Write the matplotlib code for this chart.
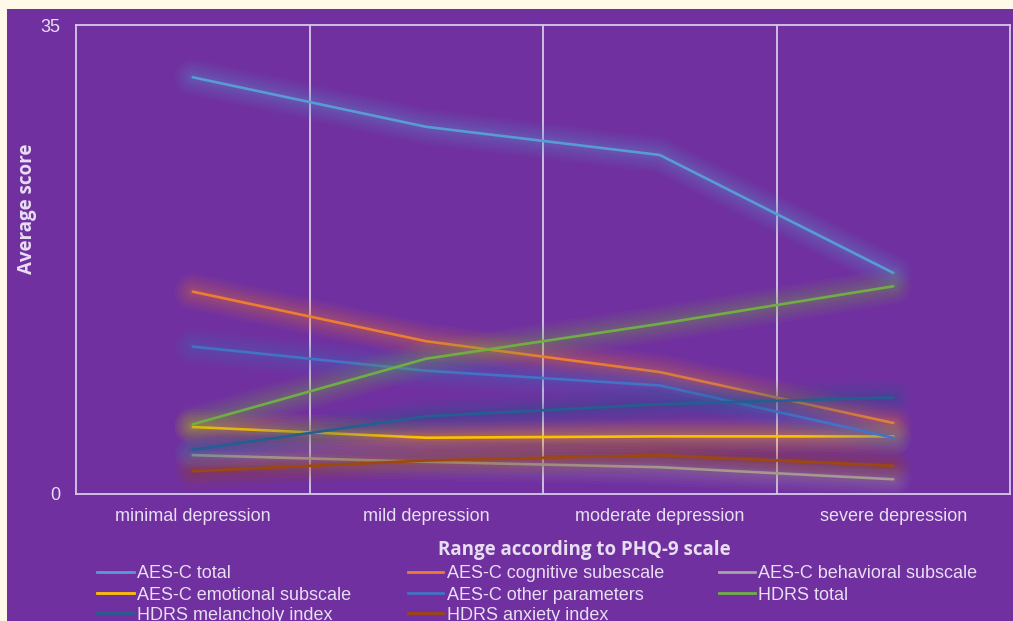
import matplotlib
matplotlib.use("Agg")
import matplotlib.pyplot as plt
import matplotlib.patheffects as pe
from matplotlib.lines import Line2D
from matplotlib.patches import Rectangle

# Categories along the PHQ-9 severity range
categories = ["minimal depression", "mild depression", "moderate depression", "severe depression"]

# Average scores per group
aes_total = [31.1, 27.4, 25.3, 16.5]
aes_cognitive = [15.1, 11.4, 9.1, 5.3]
aes_behavioral = [2.9, 2.4, 2.0, 1.1]
aes_emotional = [5.0, 4.2, 4.3, 4.3]
aes_other = [11.0, 9.2, 8.1, 4.2]
hdrs_total = [5.2, 10.1, 12.7, 15.5]
hdrs_melancholy = [3.3, 5.8, 6.7, 7.2]
hdrs_anxiety = [1.7, 2.5, 2.9, 2.1]

series_names = ["AES-C total", "AES-C cognitive subescale", "AES-C behavioral subscale",
                "AES-C emotional subscale", "AES-C other parameters", "HDRS total",
                "HDRS melancholy index", "HDRS anxiety index"]
series_values = [aes_total, aes_cognitive, aes_behavioral, aes_emotional,
                 aes_other, hdrs_total, hdrs_melancholy, hdrs_anxiety]
series_colors = ["#5B9BD5", "#ED7D31", "#A5A5A5", "#FFC000",
                 "#4472C4", "#70AD47", "#255E91", "#9E480E"]

y_ticks = [0, 35]

BG = "#7030A0"
TXT = "#E8DEF2"
GRID = "#D8C9E8"
FONT = "Liberation Sans"
BOLD_FONT = "Open Sans"

W, H = 1013, 621
fig = plt.figure(figsize=(W / 100, H / 100), dpi=100)
fig.patch.set_facecolor(BG)

# cream page margins at top and left
fig.patches.append(Rectangle((0, 1 - 9 / H), 1, 9 / H, transform=fig.transFigure,
                             facecolor="#FFF9E9", edgecolor="none", zorder=0))
fig.patches.append(Rectangle((0, 0), 7 / W, 1, transform=fig.transFigure,
                             facecolor="#FFF9E9", edgecolor="none", zorder=0))

ax = fig.add_axes([76 / W, 1 - 494 / H, (1010 - 76) / W, (494 - 25) / H])
ax.set_facecolor(BG)

x = list(range(len(categories)))
for name, vals, col in zip(series_names, series_values, series_colors):
    glow = [pe.Stroke(linewidth=w, foreground=col, alpha=0.05)
            for w in (26, 22, 18, 15, 12, 9, 7, 5)]
    ax.plot(x, vals, color=col, lw=1.9, solid_capstyle="round", solid_joinstyle="round",
            path_effects=glow + [pe.Normal()], zorder=3)

ax.set_xlim(-0.5, len(categories) - 0.5)
ax.set_ylim(0, 35)
ax.set_yticks(y_ticks)
ax.set_yticklabels([str(v) for v in y_ticks], fontsize=13, color=TXT, family=FONT)
ax.set_xticks(x)
ax.set_xticklabels(categories, fontsize=13, color=TXT, family=FONT)
ax.tick_params(axis="both", length=0)
ax.tick_params(axis="y", pad=11)
ax.tick_params(axis="x", pad=10)

for b in [0.5, 1.5, 2.5]:
    ax.axvline(b, color=GRID, lw=1.3, zorder=1)
for s in ax.spines.values():
    s.set_color(GRID)
    s.set_linewidth(1.3)

fig.text(27 / W, 1 - 209 / H, "Average score", rotation=90, ha="center", va="center",
         fontsize=13.5, fontweight="bold", color=TXT, family=BOLD_FONT)
fig.text(584 / W, 1 - 550 / H, "Range according to PHQ-9 scale", ha="center", va="center",
         fontsize=13.5, fontweight="bold", color=TXT, family=BOLD_FONT)

# legend laid out row by row in three columns
col_x = [(97, 134, 137), (408, 443, 447), (719, 755, 758)]
row_y = [572, 593, 613]
for i, (name, col) in enumerate(zip(series_names, series_colors)):
    r, c = divmod(i, 3)
    x0, x1, xt = col_x[c]
    yy = 1 - row_y[r] / H
    fig.add_artist(Line2D([x0 / W, x1 / W], [yy, yy], transform=fig.transFigure,
                          color=col, lw=2.0))
    fig.text(xt / W, yy - 2 / H, name, ha="left", va="center", fontsize=13, color=TXT,
             family=FONT)

fig.savefig("out.png", dpi=100, facecolor=BG)
